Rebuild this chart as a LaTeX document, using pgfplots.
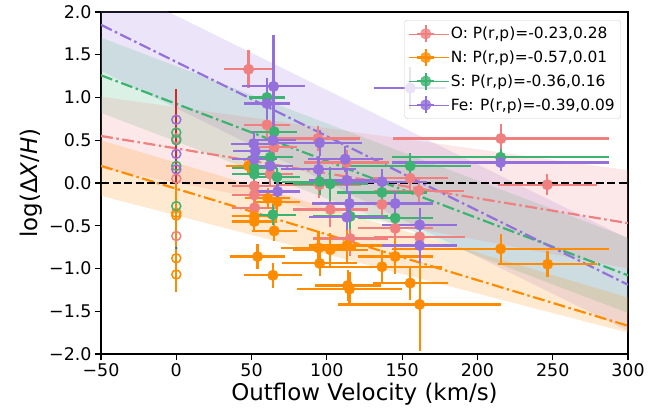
\documentclass[border=0pt]{standalone}
\usepackage{fontspec}
\setmainfont{DejaVu Sans}
\usepackage{pgfplots}
\usepackage{pgfplotstable}
\pgfplotsset{compat=1.18}
\definecolor{cO}{HTML}{F08080}
\definecolor{cN}{HTML}{FF8C00}
\definecolor{cS}{HTML}{3CB371}
\definecolor{cFe}{HTML}{9370DB}
\definecolor{cRed}{HTML}{D62728}
\definecolor{cBlue}{HTML}{1F77B4}

% detections: x  y  ex  ey
\pgfplotstableread{
x y ex ey
48 1.33 16 0.22
60.2 0.68 15 0.15
65 0.42 15 0.15
62.4 0.105 15 0.15
51.8 -0.035 15 0.12
51.8 -0.14 15 0.12
52 -0.29 15 0.12
94 0.52 28 0.15
113 0.24 28 0.15
95 -0.02 28 0.15
102.3 -0.31 25 0.2
115.5 -0.65 25 0.2
136.6 -0.25 30 0.15
145.4 -0.53 25 0.15
155.4 0.055 25 0.15
161 -0.09 30 0.15
161.6 -0.63 30 0.15
215.6 0.52 72 0.17
246.4 -0.02 33 0.12
}\tabO
\pgfplotstableread{
x y ex ey
48 0.20 15 0.1
60.7 -0.18 15 0.12
66.9 -0.22 15 0.12
51.8 -0.39 15 0.12
51.8 -0.45 15 0.12
65 -0.56 15 0.12
54 -0.86 18 0.15
64.2 -1.08 19 0.15
94.5 -0.76 25 0.2
102.3 -0.78 25 0.2
113.3 -0.73 25 0.2
95.2 -0.94 25 0.15
145.4 -0.86 25 0.2
136.6 -0.98 40 0.2
155.4 -1.17 25 0.2
113.8 -1.20 22 0.18
115 -1.24 35 0.2
161.6 -1.42 54 0.55
215.4 -0.77 72 0.17
246.6 -0.95 33 0.15
}\tabN
\pgfplotstableread{
x y ex ey
60.2 1.00 12 0.12
65 0.60 15 0.12
62.4 0.30 15 0.12
51.8 0.18 15 0.1
51.8 0.105 15 0.1
66.9 0.07 15 0.1
64.2 -0.37 15 0.12
95.2 0.015 25 0.15
102.3 -0.01 25 0.2
115.5 -0.39 25 0.15
136.6 -0.11 30 0.15
145.4 -0.41 25 0.15
155.4 0.20 40 0.15
215.4 0.30 72 0.1
}\tabS
\pgfplotstableread{
x y ex ey
64.6 1.13 21 0.6
60.2 0.93 15 0.3
64.2 0.50 15 0.15
51.4 0.46 15 0.15
52.5 0.37 15 0.15
51.8 0.28 15 0.15
62.4 0.20 15 0.12
67.3 -0.10 15 0.12
95.2 0.47 28 0.15
112.2 0.28 25 0.15
94.5 0.16 25 0.15
113.3 0.03 25 0.15
136.6 0.015 30 0.15
115 -0.24 25 0.15
145.4 -0.24 25 0.15
113.3 -0.40 25 0.15
161.6 -0.49 25 0.2
161.6 -0.73 25 0.2
155.4 1.11 24 0.25
215.4 0.24 72 0.1
}\tabFe

\begin{document}
\begin{tikzpicture}
\path[use as bounding box] (0,0) rectangle (671bp,414bp);
\begin{axis}[
  at={(101bp,60bp)}, anchor=south west,
  width=527bp, height=342bp, scale only axis,
  xmin=-50, xmax=300, ymin=-2, ymax=2,
  xtick={-50,0,50,100,150,200,250,300},
  xticklabels={−50,0,50,100,150,200,250,300},
  ytick={-2,-1.5,-1,-0.5,0,0.5,1,1.5,2},
  yticklabels={−2.0,−1.5,−1.0,−0.5,0.0,0.5,1.0,1.5,2.0},
  tick align=outside, tick pos=left, major tick length=6bp,
  every tick/.style={black, line width=1.1bp},
  axis line style={line width=1.1bp},
  tick label style={font=\fontsize{17.5}{20}\selectfont},
  label style={font=\fontsize{23}{26}\selectfont},
  xlabel={Outflow Velocity (km/s)},
  ylabel={log(Δ\textit{X}/\textit{H})},
  legend cell align=left,
  legend style={font=\fontsize{15.5}{18}\selectfont, at={(0.9867,0.9766)}, anchor=north east,
     fill=white, fill opacity=0.8, text opacity=1, draw=black!20, rounded corners=3bp,
     row sep=4.5bp, inner xsep=4bp, inner ysep=4bp},
  legend image code/.code={
     \draw[#1, line width=2.2bp] (8.5bp,0bp) -- (25.5bp,0bp);
     \draw[#1, line width=2.2bp] (17bp,-8.5bp) -- (17bp,8.5bp);
     \fill[#1] (17bp,0bp) circle (5.3bp);
     \path (0bp,0bp) -- (40bp,0bp);
  },
]
% bands
\addplot[draw=none, fill=cFe, fill opacity=0.18, forget plot] coordinates {(-50,2.39) (300,-0.65) (300,-1.73) (-50,1.31)} --cycle;
\addplot[draw=none, fill=cS, fill opacity=0.18, forget plot] coordinates {(-50,1.70) (300,-0.64) (300,-1.52) (-50,0.82)} --cycle;
\addplot[draw=none, fill=cO, fill opacity=0.18, forget plot] coordinates {(-50,1.01) (300,0.15) (300,-1.0) (-50,0.17)} --cycle;
\addplot[draw=none, fill=cN, fill opacity=0.18, forget plot] coordinates {(-50,0.50) (300,-1.34) (300,-1.75) (-50,-0.15)} --cycle;
% fits
\addplot[cO, line width=2.2bp, dash pattern=on 12bp off 3.5bp on 2.5bp off 3.5bp, forget plot] coordinates {(-50,0.55) (300,-0.47)};
\addplot[cN, line width=2.2bp, dash pattern=on 12bp off 3.5bp on 2.5bp off 3.5bp, forget plot] coordinates {(-50,0.20) (300,-1.67)};
\addplot[cS, line width=2.2bp, dash pattern=on 12bp off 3.5bp on 2.5bp off 3.5bp, forget plot] coordinates {(-50,1.26) (300,-1.08)};
\addplot[cFe, line width=2.2bp, dash pattern=on 12bp off 3.5bp on 2.5bp off 3.5bp, forget plot] coordinates {(-50,1.85) (300,-1.19)};
% zero line
\addplot[black, line width=2.2bp, dash pattern=on 8bp off 3.5bp, forget plot] coordinates {(-50,0) (300,0)};
% v=0 lines
\addplot[cRed, line width=2.2bp, forget plot] coordinates {(0,1.10) (0,0.0)};
\addplot[cN, line width=2.2bp, forget plot] coordinates {(0,0.0) (0,-1.27)};
\addplot[cBlue, only marks, mark=*, mark size=1bp, forget plot] coordinates {(0,-0.76)};
% open circles at v=0
\addplot[cO, only marks, mark=o, mark size=4.5bp, mark options={line width=1.5bp}, forget plot] coordinates {(0,0.52) (0,0.05) (0,-0.62)};
\addplot[cN, only marks, mark=o, mark size=4.5bp, mark options={line width=1.5bp}, forget plot] coordinates {(0,-0.35) (0,-0.38) (0,-0.88) (0,-1.07)};
\addplot[cS, only marks, mark=o, mark size=4.5bp, mark options={line width=1.5bp}, forget plot] coordinates {(0,0.59) (0,0.50) (0,0.20) (0,-0.27)};
\addplot[cFe, only marks, mark=o, mark size=4.5bp, mark options={line width=1.5bp}, forget plot] coordinates {(0,0.74) (0,0.34) (0,0.16)};
% detections
\pgfplotsset{errs/.style={only marks, mark=*, mark size=5.3bp, forget plot,
   error bars/.cd, x dir=both, x explicit, y dir=both, y explicit,
   error bar style={line width=2.2bp}, error mark=none}}
\addplot[cO, errs] table[x=x, y=y, x error=ex, y error=ey] {\tabO};
\addplot[cN, errs] table[x=x, y=y, x error=ex, y error=ey] {\tabN};
\addplot[cS, errs] table[x=x, y=y, x error=ex, y error=ey] {\tabS};
\addplot[cFe, errs] table[x=x, y=y, x error=ex, y error=ey] {\tabFe};
% legend
\addlegendimage{cO}\addlegendentry{O: P(r,p)=-0.23,0.28}
\addlegendimage{cN}\addlegendentry{N: P(r,p)=-0.57,0.01}
\addlegendimage{cS}\addlegendentry{S: P(r,p)=-0.36,0.16}
\addlegendimage{cFe}\addlegendentry{Fe: P(r,p)=-0.39,0.09}
\end{axis}
\end{tikzpicture}
\end{document}
